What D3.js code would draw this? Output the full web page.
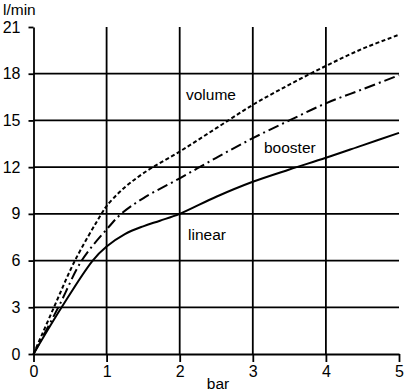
<!DOCTYPE html>
<html><head><meta charset="utf-8">
<script src="https://cdn.jsdelivr.net/npm/d3@7"></script>
<style>body{margin:0;background:#fff}svg{display:block}text{font-family:"Liberation Sans",Arial,sans-serif;fill:#000}</style>
</head><body><div id="chart"></div>
<script>
const xTicks = [0,1,2,3,4,5];
const yTicks = [0,3,6,9,12,15,18,21];
const linearX = [0,0.385,0.81,1,1.25,1.5,1.73,2,2.5,3,3.5,4,4.5,5];
const linearY = [0,3,6,6.9,7.7,8.2,8.56,9.0,10.1,11.06,11.85,12.6,13.4,14.2];
const volumeX = [0,0.28,0.567,0.93,1,1.2,1.5,2,2.5,3,3.5,4,4.5,5];
const volumeY = [0,3,6,9,9.5,10.5,11.6,13.0,14.5,16.0,17.3,18.5,19.6,20.5];
const boosterX = [0,0.34,0.66,1,1.2,1.5,2,2.5,3,3.5,4,4.5,5];
const boosterY = [0,3,6,8.0,9,10.0,11.28,12.6,13.86,15.0,16.1,17.0,17.9];
const seriesNames = ["volume","booster","linear"];

const W=408,H=392;
const svg=d3.select("#chart").append("svg").attr("width",W).attr("height",H);
const x=d3.scaleLinear().domain([0,5]).range([33.5,399]);
const y=d3.scaleLinear().domain([0,21]).range([354,27]);

// grid
const g=svg.append("g").attr("stroke","#000").attr("stroke-width",1.8);
yTicks.filter(v=>v>0&&v<21).forEach(v=>g.append("line").attr("x1",x(0)).attr("x2",x(5)).attr("y1",y(v)).attr("y2",y(v)));
xTicks.filter(v=>v>0&&v<5).forEach(v=>g.append("line").attr("x1",x(v)).attr("x2",x(v)).attr("y1",y(21)).attr("y2",y(0)));

// axes
const xa=svg.append("g").attr("transform",`translate(0,${y(0)})`).call(d3.axisBottom(x).tickValues(xTicks).tickFormat(d3.format("d")).tickSize(8).tickPadding(4).tickSizeOuter(0));
const ya=svg.append("g").attr("transform",`translate(${x(0)},0)`).call(d3.axisLeft(y).tickValues(yTicks).tickFormat(d3.format("d")).tickSize(5).tickPadding(8).tickSizeOuter(0));
[xa,ya].forEach(a=>{a.selectAll("path,line").attr("stroke","#000").attr("stroke-width",1.8);a.selectAll("text").attr("font-size",16).attr("font-family",'"Liberation Sans",Arial,sans-serif');});

// curves
const line=d3.line().x(d=>x(d[0])).y(d=>y(d[1])).curve(d3.curveCatmullRom.alpha(0.5));
function draw(xs,ys,dash){
  svg.append("path").datum(xs.map((v,i)=>[v,ys[i]])).attr("d",line).attr("fill","none").attr("stroke","#000").attr("stroke-width",2).attr("stroke-dasharray",dash);
}
draw(linearX,linearY,null);
draw(volumeX,volumeY,"4,2.5");
draw(boosterX,boosterY,"11,4,2,4");

// labels
const lbl=[[seriesNames[0],186,100],[seriesNames[1],264,153],[seriesNames[2],188,240]];
lbl.forEach(l=>svg.append("text").attr("x",l[1]).attr("y",l[2]).attr("font-size",15.5).text(l[0]));
svg.append("text").attr("x",3).attr("y",15).attr("font-size",15.5).text("l/min");
svg.append("text").attr("x",218).attr("y",389).attr("text-anchor","middle").attr("font-size",15.5).text("bar");
</script></body></html>
